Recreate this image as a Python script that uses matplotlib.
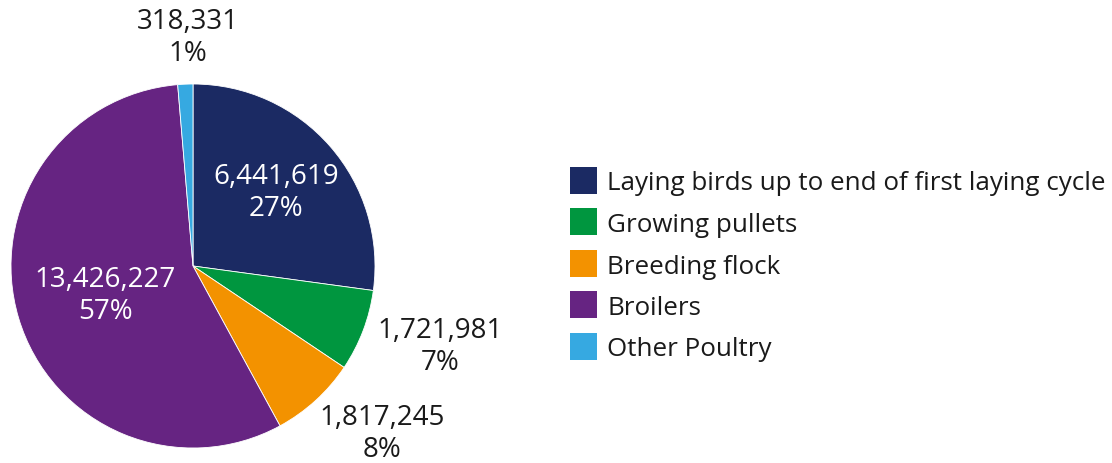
import matplotlib
matplotlib.use("Agg")
import matplotlib.pyplot as plt
from matplotlib.patches import Rectangle

# Poultry numbers by category
categories = [
    "Laying birds up to end of first laying cycle",
    "Growing pullets",
    "Breeding flock",
    "Broilers",
    "Other Poultry",
]
counts = [6441619, 1721981, 1817245, 13426227, 318331]
colors = ["#1b2a63", "#00963f", "#f39200", "#662482", "#36a9e1"]
label_colors = ["white", "#1a1a1a", "#1a1a1a", "white", "#1a1a1a"]

W, H = 1112, 464
plt.rcParams["font.family"] = ["Open Sans", "DejaVu Sans"]

fig = plt.figure(figsize=(W / 100, H / 100), dpi=100)
ax = fig.add_axes([0, 0, 1, 1])

# pixel-based coordinates: origin bottom-left
cx, cy, R = 193, 197, 182
wedges, _ = ax.pie(
    counts,
    colors=colors,
    startangle=90,
    counterclock=False,
    center=(cx, cy),
    radius=R,
    wedgeprops=dict(edgecolor="white", linewidth=0.6),
)
ax.set_xlim(0, W)
ax.set_ylim(0, H)
ax.set_aspect("auto")
ax.axis("off")

total = sum(counts)
label_pos = [(276, 271), (440, 117), (382, 30), (105, 168), (188, 426)]
for v, (x, y), c in zip(counts, label_pos, label_colors):
    pct = round(100 * v / total)
    ax.text(x, y, f"{v:,}\n{pct}%", ha="center", va="center",
            fontsize=20, color=c, linespacing=1.22)

# legend
lx, ly0, step, sz = 570, H - 181, 41.5, 27
for i, (name, col) in enumerate(zip(categories, colors)):
    y = ly0 - i * step
    ax.add_patch(Rectangle((lx, y - sz / 2), sz, sz, facecolor=col, edgecolor="none"))
    ax.text(lx + 37, y, name, ha="left", va="center_baseline",
            fontsize=18.7, color="#1a1a1a")

fig.savefig("out.png", dpi=100)
